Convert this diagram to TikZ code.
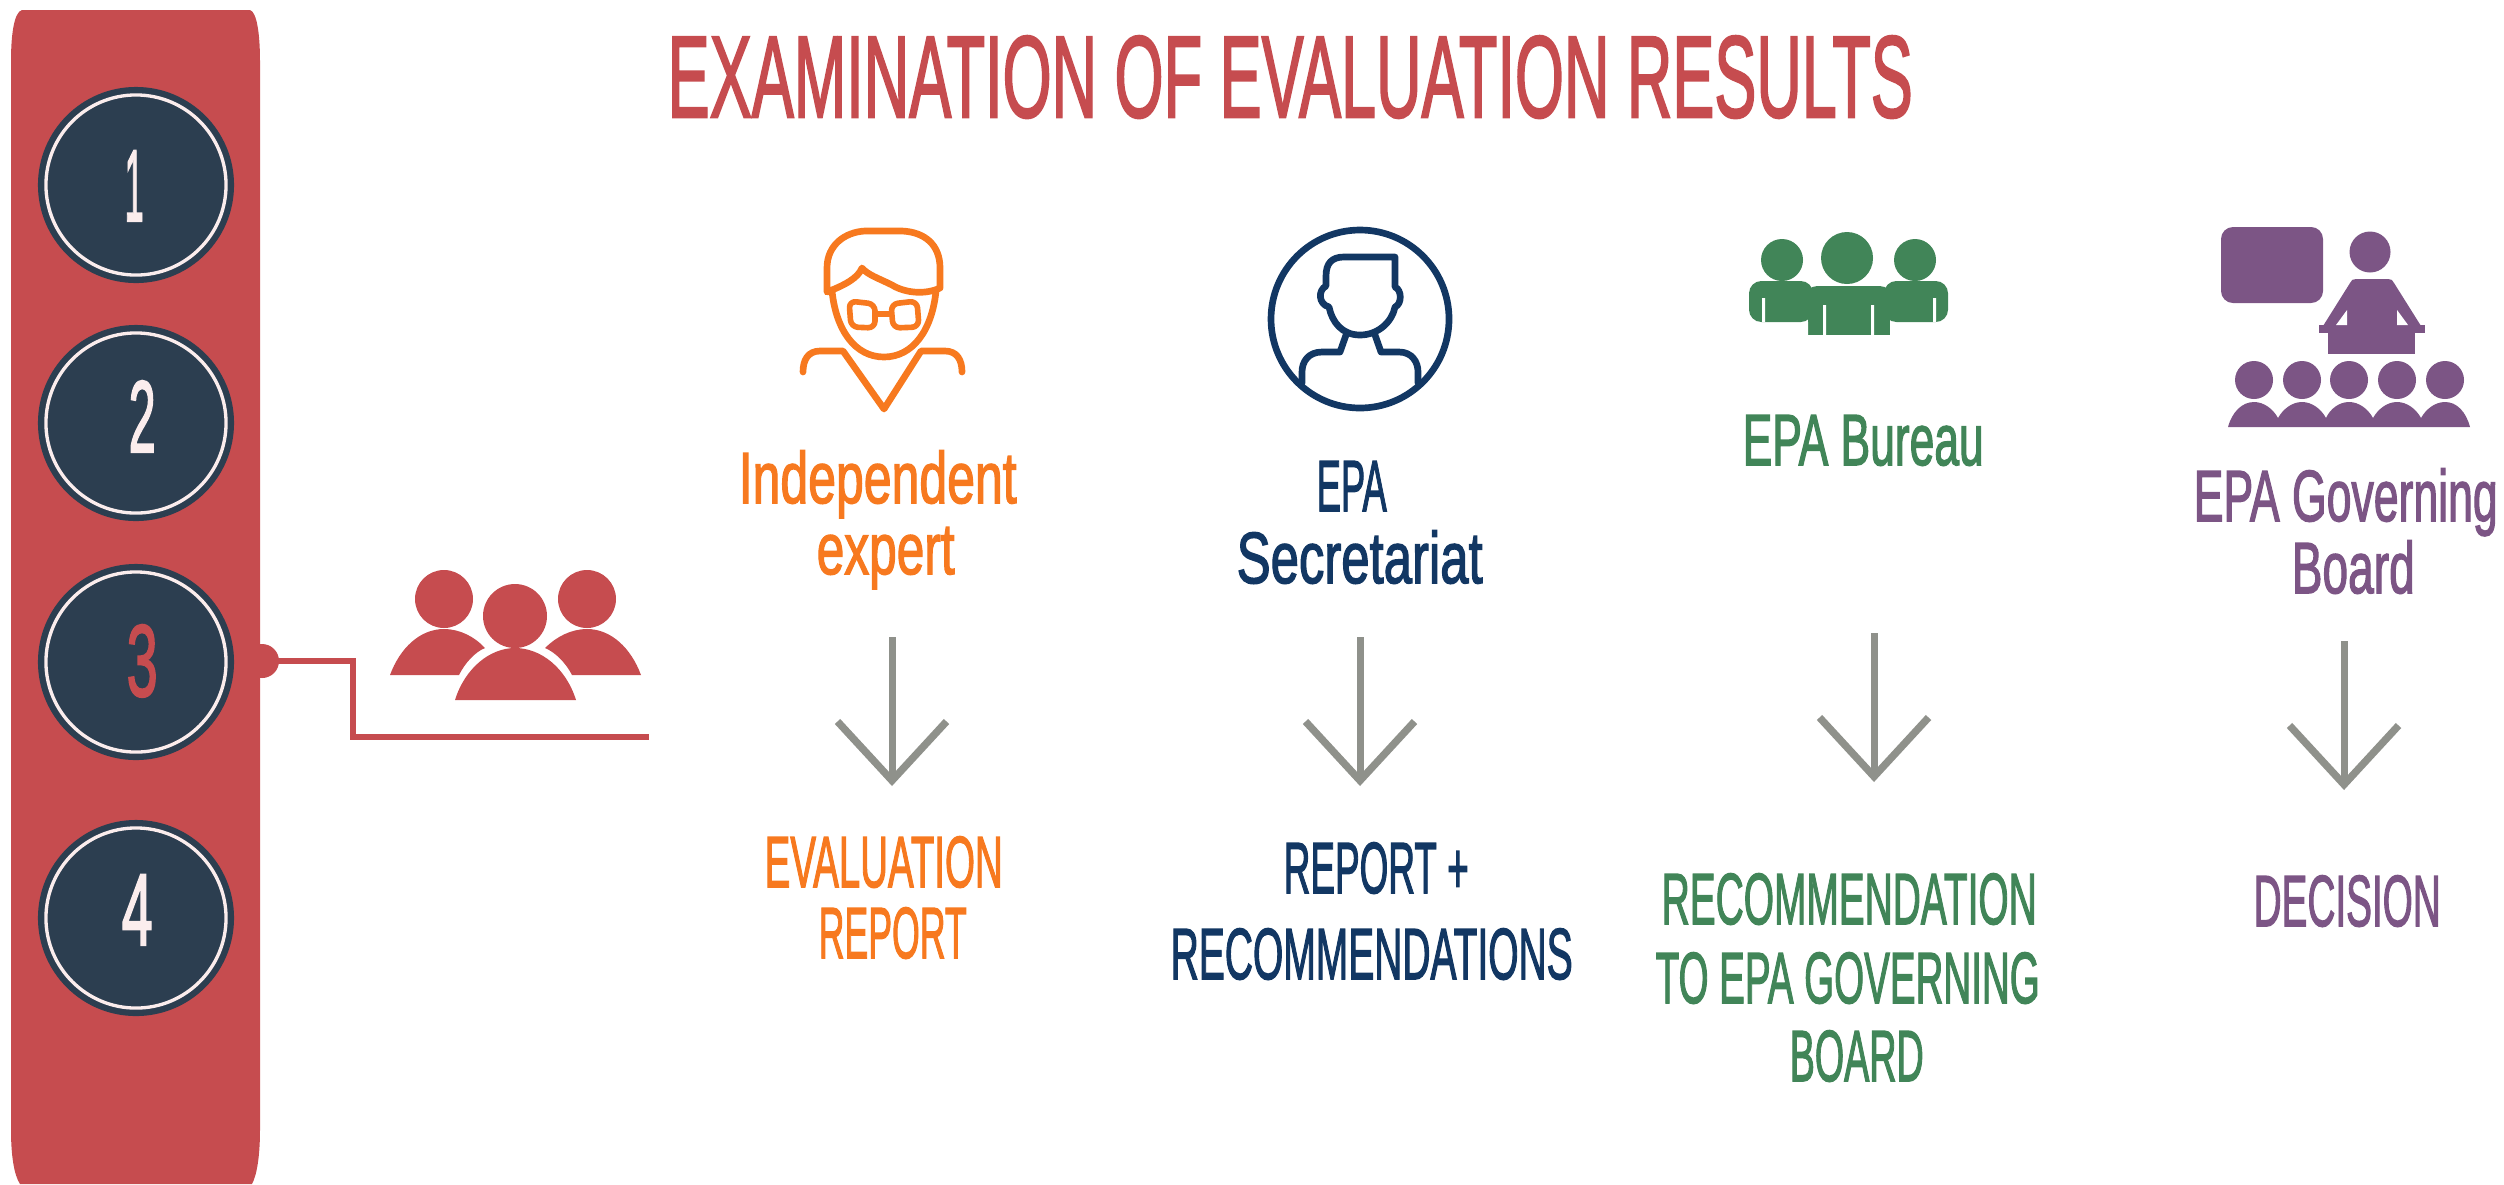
\documentclass[tikz,border=0pt]{standalone}
\usepackage{fontspec}
\usepackage{graphicx}
\setmainfont[FakeBold=2.2]{Liberation Sans}
\usetikzlibrary{arrows.meta,calc}
\definecolor{cred}{HTML}{C64C4F}
\definecolor{cnavy}{HTML}{2C3E50}
\definecolor{cring}{HTML}{FBEDED}
\definecolor{corange}{HTML}{F7791F}
\definecolor{cblue}{HTML}{123763}
\definecolor{cgreen}{HTML}{418558}
\definecolor{cpurple}{HTML}{7C5585}
\definecolor{cgray}{HTML}{8F918B}
\newlength{\pxu}\setlength{\pxu}{0.01cm}
\newcommand{\fitw}[2]{\resizebox{#1\pxu}{\height}{#2}}
\tikzset{
  x=0.01cm,y=-0.01cm,
  line/.style={anchor=base west,inner sep=0pt,font=\fontsize{20.6}{24}\selectfont},
  head/.style={anchor=base west,inner sep=0pt,font=\fontsize{33}{38}\selectfont,text=cred},
  digit/.style={anchor=base west,inner sep=0pt,font=\fontsize{29}{34}\selectfont,text=cring},
  badge/.style={circle,fill=cnavy,inner sep=0pt,minimum size=1.96cm},
  ring/.style={circle,draw=cring,line width=0.95pt,inner sep=0pt,minimum size=1.80cm},
  flow/.style={draw=cgray,line width=2pt,-{Straight Barb[length=16.8pt,width=31pt,line width=2.1pt]}},
  wire/.style={draw=cred,line width=1.9pt},
  ic/.style={line width=1.9pt,line cap=round,line join=round},
}
\begin{document}
\begin{tikzpicture}
\useasboundingbox (0,0) rectangle (2504,1184);
% sidebar
\fill[cred] (22,10) -- (250,10) .. controls (257,12) and (260,35) .. (260,61)
  -- (260,1130) .. controls (260,1155) and (257,1175) .. (252,1184)
  -- (20,1184) .. controls (14,1175) and (11,1155) .. (11,1130)
  -- (11,61) .. controls (11,35) and (14,12) .. (22,10) -- cycle;
% connector from step 3
\node[circle,fill=cred,inner sep=0pt,minimum size=0.34cm] (dot) at (262,661) {};
\coordinate (bend) at (353,737);
\coordinate (wireend) at (649,737);
\draw[wire] (dot.center) -| (bend) -- (wireend);
% badges
\foreach \n/\yy in {1/185,2/423,3/662,4/918}{
  \node[badge] (c\n) at (136,\yy) {};
  \node[ring] (r\n) at (c\n) {};
}
\node[digit] (d1) at (124,221) {\fitw{19}{1}};
\node[digit] (d2) at (128,452) {\fitw{27}{2}};
\node[digit,text=cred] (d3) at (126,696) {\fitw{31}{3}};
\node[digit] (d4) at (121,945) {\fitw{31}{4}};
% title
\node[head] (title) at (667,117) {\fitw{1245}{EXAMINATION OF EVALUATION RESULTS}};
% red people
\begin{scope}[xshift=-0.05cm]
\fill[cred] (449,599) circle[radius=29] (592,599) circle[radius=29] (520,616) circle[radius=32];
\fill[cred] (395,675) .. controls (405,648) and (425,629) .. (449,629)
  .. controls (465,629) and (480,637) .. (490,648)
  .. controls (480,652) and (470,663) .. (464,675) -- cycle;
\fill[cred] (646,675) .. controls (636,648) and (616,629) .. (592,629)
  .. controls (576,629) and (561,637) .. (550,648)
  .. controls (560,652) and (571,663) .. (577,675) -- cycle;
\fill[cred] (460,700) .. controls (470,668) and (495,648) .. (520,648)
  .. controls (546,648) and (571,668) .. (581,700) -- cycle;
\end{scope}
% orange expert
\begin{scope}[ic,draw=corange]
\draw (827,292) -- (827,268) .. controls (827,245) and (845,232) .. (865,231)
  -- (902,231) .. controls (925,232) and (940,245) .. (940,268) -- (940,288)
  .. controls (925,295) and (905,293) .. (892,285)
  .. controls (878,278) and (868,275) .. (862,268)
  .. controls (858,278) and (845,285) .. (827,292) -- cycle;
\draw (832,291) .. controls (836,330) and (855,357) .. (884,357)
  .. controls (913,357) and (932,330) .. (936,291);
\draw[rounded corners=2pt,line width=1.6pt] (849,301) -- (875,304) -- (875,328) -- (851,327) -- cycle;
\draw[rounded corners=2pt,line width=1.6pt] (891,304) -- (917,301) -- (919,327) -- (893,328) -- cycle;
\draw[line width=1.6pt] (875,314) -- (891,314);
\draw (803,372) .. controls (803,360) and (808,351) .. (820,351) -- (843,351)
  -- (884,409) -- (921,351) -- (945,351) .. controls (957,351) and (962,360) .. (962,372);
\end{scope}
% blue secretariat
\begin{scope}[ic,draw=cblue]
\draw (1360,319) circle[radius=89];
\draw (1326,276) .. controls (1326,263) and (1332,257) .. (1344,257) -- (1395,257) -- (1395,287)
  .. controls (1402,290) and (1402,304) .. (1395,307)
  .. controls (1392,322) and (1378,335) .. (1360,335)
  .. controls (1342,335) and (1332,322) .. (1329,307)
  .. controls (1318,304) and (1318,290) .. (1326,286) -- cycle;
\draw (1346,335) -- (1340,352) -- (1322,352) .. controls (1308,352) and (1302,362) .. (1302,372) -- (1302,383);
\draw (1375,335) -- (1381,352) -- (1399,352) .. controls (1412,352) and (1418,362) .. (1418,372) -- (1418,383);
\end{scope}
% green bureau
\fill[cgreen] (1782,260) circle[radius=21] (1915,260) circle[radius=21] (1847,258) circle[radius=26];
\fill[cgreen,rounded corners=3.5pt] (1749,322) -- (1749,281) -- (1813,281) -- (1813,322) -- cycle;
\fill[cgreen,rounded corners=3.5pt] (1884,322) -- (1884,281) -- (1948,281) -- (1948,322) -- cycle;
\fill[cgreen,rounded corners=3.5pt] (1805,306) -- (1805,286) -- (1892,286) -- (1892,306) -- cycle;
\fill[cgreen] (1808,296) rectangle (1890,335);
\fill[white] (1762,298) rectangle (1765,322) (1933,298) rectangle (1936,322)
  (1823,305) rectangle (1826,335) (1871,305) rectangle (1874,335);
\fill[white] (1804.5,322) rectangle (1808,335) (1890,322) rectangle (1893,335);
% purple board
\fill[cpurple,rounded corners=3.4pt] (2221,227) rectangle (2323,303);
\fill[cpurple] (2370,252) circle[radius=20.5];
\fill[cpurple] (2350,283) .. controls (2351,280) and (2353,279) .. (2356,279) -- (2388,279)
  .. controls (2391,279) and (2393,280) .. (2394,283) -- (2421,326) -- (2323,326) -- cycle;
\fill[cpurple] (2319,325) rectangle (2425,333);
\fill[cpurple] (2328,333) rectangle (2415,354);
\fill[white] (2347,310) -- (2347,325) -- (2336,325) -- cycle (2397,310) -- (2397,325) -- (2408,325) -- cycle;
\foreach \xx in {2254,2302,2349,2397,2445}{
  \fill[cpurple] (\xx,380) circle[radius=19];
}
\fill[cpurple] (2228,427) .. controls (2232,412) and (2242,402) .. (2254,402)
  .. controls (2264,402) and (2273,409) .. (2278,418)
  .. controls (2283,409) and (2292,402) .. (2302,402)
  .. controls (2312,402) and (2321,409) .. (2326,418)
  .. controls (2330,409) and (2339,402) .. (2349,402)
  .. controls (2359,402) and (2368,409) .. (2373,418)
  .. controls (2378,409) and (2387,402) .. (2397,402)
  .. controls (2407,402) and (2416,409) .. (2421,418)
  .. controls (2426,409) and (2435,402) .. (2445,402)
  .. controls (2457,402) and (2466,412) .. (2470,427) -- cycle;
% actor labels
\node[line,text=corange] (l1a) at (738,503) {\fitw{278}{Independent}};
\node[line,text=corange] (l1b) at (816,574) {\fitw{138}{expert}};
\node[line,text=cblue] (l2a) at (1316,511) {\fitw{70}{EPA}};
\node[line,text=cblue] (l2b) at (1236,583) {\fitw{246}{Secretariat}};
\node[line,text=cgreen] (l3) at (1742,465) {\fitw{241}{EPA Bureau}};
\node[line,text=cpurple] (l4a) at (2193,521) {\fitw{304}{EPA Governing}};
\node[line,text=cpurple] (l4b) at (2291,593) {\fitw{123}{Board}};
% output labels
\node[line,text=corange] (o1a) at (764,887) {\fitw{238}{EVALUATION}};
\node[line,text=corange] (o1b) at (818,958) {\fitw{148}{REPORT}};
\node[line,text=cblue] (o2a) at (1283,893) {\fitw{185}{REPORT +}};
\node[line,text=cblue] (o2b) at (1170,979) {\fitw{402}{RECOMMENDATIONS}};
\node[line,text=cgreen] (o3a) at (1661,924) {\fitw{375}{RECOMMENDATION}};
\node[line,text=cgreen] (o3b) at (1655,1003) {\fitw{384}{TO EPA GOVERNING}};
\node[line,text=cgreen] (o3c) at (1789,1081) {\fitw{134}{BOARD}};
\node[line,text=cpurple] (o4) at (2253,926) {\fitw{187}{DECISION}};
% arrows
\coordinate (a1s) at (892,637); \coordinate (a1e) at (892,786);
\coordinate (a2s) at (1360,637); \coordinate (a2e) at (1360,786);
\coordinate (a3s) at (1874,633); \coordinate (a3e) at (1874,782);
\coordinate (a4s) at (2344,641); \coordinate (a4e) at (2344,790);
\draw[flow] (a1s) -- (a1e);
\draw[flow] (a2s) -- (a2e);
\draw[flow] (a3s) -- (a3e);
\draw[flow] (a4s) -- (a4e);
\end{tikzpicture}
\end{document}
